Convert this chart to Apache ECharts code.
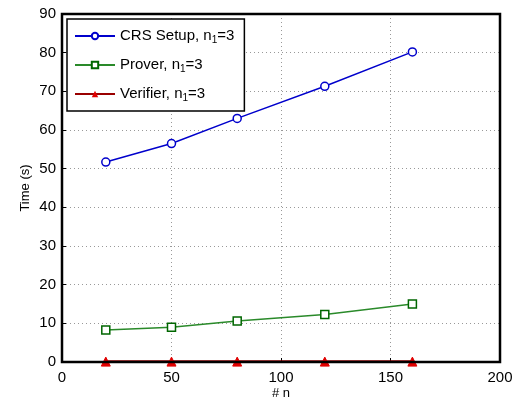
<!DOCTYPE html>
<html>
<head>
<meta charset="utf-8">
<script src="https://cdn.jsdelivr.net/npm/echarts@6/dist/echarts.min.js"></script>
<style>
  html, body { margin: 0; padding: 0; background: #fff; }
  #chart { width: 516px; height: 402px; }
</style>
</head>
<body>
<div id="chart"></div>
<script>
// x positions (# n)
var nValues = [20, 50, 80, 120, 160];
// times in seconds
var crsSetup = [51.7, 56.5, 63.0, 71.3, 80.2];
var prover = [8.3, 9.0, 10.6, 12.3, 15.0];
var verifier = [0.1, 0.1, 0.1, 0.1, 0.1];
var seriesNames = ['CRS Setup', 'Prover', 'Verifier'];

function pairs(ys) {
  return nValues.map(function (x, i) { return [x, ys[i]]; });
}

var chart = echarts.init(document.getElementById('chart'));
var font = 'Liberation Sans, Arial, sans-serif';

var gridLine = { show: true, lineStyle: { color: '#999', type: [1, 3], width: 1 } };

chart.setOption({
  animation: false,
  grid: { left: 62, right: 16, top: 14, bottom: 40, outerBoundsMode: 'none', containLabel: false },
  legend: {
    orient: 'vertical',
    left: 67, top: 19,
    itemGap: 11,
    itemWidth: 40, itemHeight: 8,
    padding: [8, 10, 8, 7],
    borderColor: '#000', borderWidth: 1.5,
    backgroundColor: '#fff',
    data: seriesNames,
    formatter: function (name) { return '{a|' + name + ', n}{s|1}{a|=3}'; },
    textStyle: {
      rich: {
        a: { fontSize: 15, fontFamily: font, color: '#000', lineHeight: 18 },
        s: { fontSize: 10, fontFamily: font, color: '#000', verticalAlign: 'bottom', padding: [8, 0, 0, 0], lineHeight: 18 }
      }
    }
  },
  xAxis: {
    type: 'value', min: 0, max: 200, interval: 50,
    name: '# n', nameLocation: 'middle', nameGap: 25, nameMoveOverlap: false,
    nameTextStyle: { fontSize: 13, fontFamily: font, color: '#000' },
    axisLine: { show: true, lineStyle: { color: '#000', width: 2 } },
    axisTick: { show: true, inside: true, length: 4, lineStyle: { color: '#000' } },
    axisLabel: { fontSize: 15, fontFamily: font, color: '#000', margin: 8 },
    splitLine: gridLine
  },
  yAxis: {
    type: 'value', min: 0, max: 90, interval: 10,
    name: 'Time (s)', nameLocation: 'middle', nameGap: 30, nameRotate: 90, nameMoveOverlap: false,
    nameTextStyle: { fontSize: 13, fontFamily: font, color: '#000' },
    axisLine: { show: true, lineStyle: { color: '#000', width: 2 } },
    axisTick: { show: true, inside: true, length: 4, lineStyle: { color: '#000' } },
    axisLabel: { fontSize: 15, fontFamily: font, color: '#000', margin: 6 },
    splitLine: gridLine
  },
  series: [
    {
      name: seriesNames[0], type: 'line', data: pairs(crsSetup),
      symbol: 'circle', symbolSize: 8,
      itemStyle: { color: '#fff', borderColor: '#0000cc', borderWidth: 1.5 },
      lineStyle: { color: '#0000cc', width: 1.5 }
    },
    {
      name: seriesNames[1], type: 'line', data: pairs(prover),
      symbol: 'rect', symbolSize: 8,
      itemStyle: { color: '#fff', borderColor: '#006600', borderWidth: 1.5 },
      lineStyle: { color: '#2a8a2a', width: 1.5 }
    },
    {
      name: seriesNames[2], type: 'line', data: pairs(verifier),
      symbol: 'triangle', symbolSize: 9,
      itemStyle: { color: '#e00000', borderColor: '#e00000' },
      lineStyle: { color: '#990000', width: 2.5 }
    }
  ],
  graphic: [
    {
      type: 'rect', silent: true, z: 100,
      shape: { x: 62, y: 14, width: 438, height: 348 },
      style: { fill: 'none', stroke: '#000', lineWidth: 2.5 }
    }
  ]
});
</script>
</body>
</html>
